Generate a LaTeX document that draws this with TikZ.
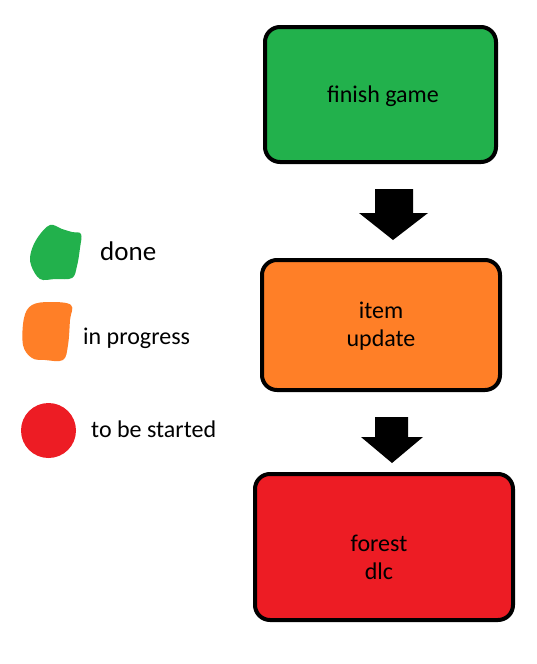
\documentclass[tikz,border=0pt]{standalone}
\usepackage{fontspec}
\setmainfont{Carlito}
\begin{document}
\begin{tikzpicture}[x=1pt,y=-1pt,
  box/.style={draw=black,line width=4pt,rounded corners=15pt,inner sep=0pt},
  boxtext/.style={inner sep=0pt,align=center,font=\fontsize{24}{28}\selectfont},
  legtext/.style={anchor=west,inner sep=0pt,font=\fontsize{24}{28}\selectfont},
  blockarrow/.style={fill=black,draw=none}]
\definecolor{pgreen}{HTML}{22B14C}
\definecolor{porange}{HTML}{FF7F27}
\definecolor{pred}{HTML}{ED1C24}
\useasboundingbox[fill=white] (0,0) rectangle (536,664);
% boxes
\node[box,fill=pgreen,minimum width=231pt,minimum height=135pt] (b1) at (380.5,94.5) {};
\node[boxtext] (t1) at (383,96) {finish game};
\node[box,fill=porange,minimum width=238pt,minimum height=130pt] (b2) at (381,325) {};
\node[boxtext] (t2) at (381,326) {item\\update};
\node[box,fill=pred,minimum width=258pt,minimum height=146pt] (b3) at (384,547) {};
\node[boxtext] (t3) at (379,557) {forest\\dlc};
% block arrows
\fill[blockarrow] (375,189) -- (413,189) -- (413,213) -- (428,213) -- (393,240) -- (359,213) -- (375,213) -- cycle;
\fill[blockarrow] (375,417) -- (408,417) -- (408,437) -- (423,437) -- (392,463) -- (361,437) -- (375,437) -- cycle;
% legend
\fill[pgreen] plot[smooth cycle,tension=0.6] coordinates {(50,225) (62,229) (72,232) (81,234) (80,248) (77,266) (72,278) (55,279) (40,279) (31,265) (31,252) (38,237)};
\node[legtext,font=\fontsize{27}{32}\selectfont] (ldone) at (100,251) {done};
\fill[porange] plot[smooth cycle,tension=0.6] coordinates {(24,318) (32,305) (50,302) (71,305) (70,320) (68,345) (63,360) (45,360) (32,358) (23,345)};
\node[legtext] (lprog) at (83,338) {in progress};
\fill[pred] (48.5,430.5) circle[radius=27.5];
\node[legtext] (lstart) at (91,429) {to be started};
\end{tikzpicture}
\end{document}
